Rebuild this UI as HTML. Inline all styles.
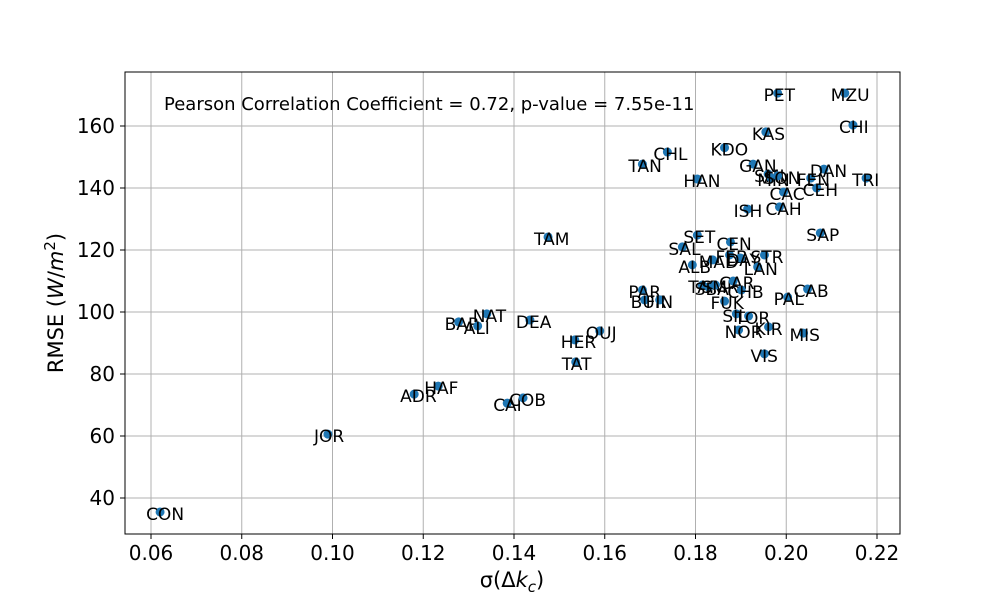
<!DOCTYPE html>
<html><head><meta charset="utf-8"><style>
body{margin:0;background:#fff;}
svg{display:block;font-family:"DejaVu Sans","Liberation Sans",sans-serif;}
</style></head><body>
<svg id="chart" width="1000" height="600">
<g id="grid"></g>
<g id="marks"></g>
<rect x="125" y="72" width="775" height="462" fill="none" stroke="#000" stroke-width="1"/>
<g id="ticks"></g>
<text x="164" y="110" font-size="18">Pearson Correlation Coefficient = 0.72, p-value = 7.55e-11</text>
<text x="512" y="587" font-size="21" text-anchor="middle">σ(Δ<tspan font-style="italic">k</tspan><tspan font-style="italic" font-size="15" dy="5">c</tspan><tspan dy="-5">)</tspan></text>
<text transform="translate(63,303) rotate(-90)" font-size="21" text-anchor="middle">RMSE (<tspan font-style="italic">W</tspan>/<tspan font-style="italic">m</tspan><tspan font-size="15" dy="-8">2</tspan><tspan dy="8">)</tspan></text>
</svg>
<script>
const labels=["CON","JOR","ADR","HAF","CAI","COB","BAR","ALI","NAT","DEA","HER","TAT","OUJ","TAM","TAN","CHL","HAN","KDO","SET","SAL","ALB","CEN","PAR","BUR","FIN","TAR","SBA","SMR","CAR","CHB","FUK","MAD","FEB","DAY","STR","LAN","SIL","TOR","NOR","KIR","MIS","VIS","PAL","CAB","SAP","ISH","CAH","CAC","GAN","SMI","MIN","SON","FEN","DAN","CEH","TRI","KAS","PET","MZU","CHI"];
const sigma=[0.0620,0.0990,0.1180,0.1233,0.1385,0.1420,0.1278,0.1320,0.1340,0.1435,0.1534,0.1536,0.1589,0.1475,0.1683,0.1738,0.1804,0.1864,0.1804,0.1771,0.1793,0.1877,0.1683,0.1688,0.1721,0.1815,0.1829,0.1844,0.1883,0.1901,0.1864,0.1838,0.1875,0.1899,0.1952,0.1937,0.1890,0.1917,0.1895,0.1961,0.2038,0.1952,0.2003,0.2047,0.2075,0.1915,0.1985,0.1994,0.1927,0.1960,0.1967,0.1981,0.2054,0.2083,0.2067,0.2176,0.1955,0.1981,0.2129,0.2147];
const rmse=[35.5,60.6,73.5,76.1,70.6,72.3,96.8,95.5,99.4,97.4,91.0,83.9,93.9,124.2,147.7,151.6,142.9,153.0,124.8,121.0,115.2,122.6,107.1,103.9,103.9,108.7,108.1,108.7,110.0,107.1,103.5,116.8,118.4,117.4,118.4,114.5,99.4,98.7,94.2,95.2,93.2,86.5,104.8,107.4,125.5,133.2,133.9,138.7,147.7,144.5,143.2,143.9,143.2,146.1,140.0,143.2,158.1,170.6,170.6,160.3];
const xTicks=[0.06,0.08,0.10,0.12,0.14,0.16,0.18,0.20,0.22];
const yTicks=[40,60,80,100,120,140,160];
const X=v=>151+(v-0.06)/0.02*90.75;
const Y=v=>498-(v-40)/20*62;
const NS="http://www.w3.org/2000/svg";
const g=document.getElementById('grid'),t=document.getElementById('ticks'),m=document.getElementById('marks');
function mk(tag,attrs,parent){const e=document.createElementNS(NS,tag);for(const k in attrs)e.setAttribute(k,attrs[k]);parent.appendChild(e);return e;}
xTicks.forEach(v=>{const x=X(v);
 const l=mk('line',{x1:x,x2:x,y1:72,y2:534,stroke:'#b0b0b0','stroke-width':1},g);
 
 
 const tk=mk('line',{x1:x,x2:x,y1:534,y2:539,stroke:'#000'},t);
 
 
 const tx=mk('text',{x:x,y:560,'font-size':20,'text-anchor':'middle'},t);tx.textContent=v.toFixed(2);
 
 
});
yTicks.forEach(v=>{const y=Y(v);
 const l=mk('line',{x1:125,x2:900,y1:y,y2:y,stroke:'#b0b0b0','stroke-width':1},g);
 
 
 const tk=mk('line',{x1:120,x2:125,y1:y,y2:y,stroke:'#000'},t);
 
 
 const tx=mk('text',{x:115,y:y+7,'font-size':20,'text-anchor':'end'},t);tx.textContent=v;
 
 
});
labels.forEach((lb,i)=>{const x=X(sigma[i]),y=Y(rmse[i]);
 const c=mk('circle',{cx:x,cy:y,r:4.5,fill:'#1f77b4'},m);
 
 
 const tx=mk('text',{x:x-14,y:y+8,'font-size':17,fill:'#000'},m);tx.textContent=lb;
 
 
});
</script>
</body></html>
